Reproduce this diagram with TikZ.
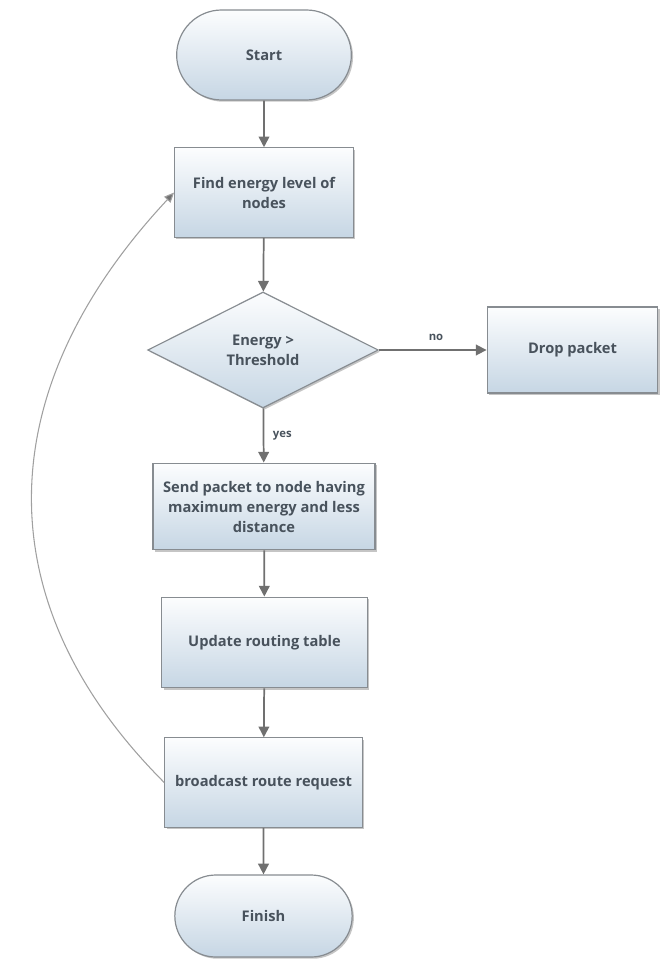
\documentclass[tikz,border=0pt]{standalone}
\usepackage{fontspec}
\setmainfont{Open Sans}
\usetikzlibrary{shapes.geometric,shapes.misc,arrows.meta,shadows}

\definecolor{boxline}{RGB}{135,140,145}
\definecolor{boxtop}{RGB}{252,253,254}
\definecolor{boxbot}{RGB}{198,214,228}
\definecolor{txtgray}{RGB}{72,82,92}
\definecolor{flowgray}{RGB}{112,112,112}
\definecolor{loopgray}{RGB}{160,160,160}

\tikzset{
  procbox/.style={rectangle, draw=boxline, line width=0.9pt, top color=boxtop, bottom color=boxbot,
    drop shadow={shadow xshift=1.3pt, shadow yshift=-1.3pt, fill=black!45},
    align=center, text=txtgray, inner sep=0pt, font=\fontsize{11}{15}\selectfont\bfseries},
  termbox/.style={procbox, rounded rectangle},
  decbox/.style={procbox, diamond, aspect=2},
  flowarrow/.style={draw=flowgray, line width=1.3pt, -{Triangle[width=8pt,length=8pt]}},
  looparrow/.style={draw=loopgray, line width=0.8pt, -{Triangle[width=6.5pt,length=7.5pt,fill=flowgray]}},
  edgelabel/.style={text=txtgray, font=\fontsize{8.5}{10}\selectfont\bfseries}
}

\begin{document}
\begin{tikzpicture}[x=0.75pt,y=0.75pt,yscale=-1]
\useasboundingbox (0,0) rectangle (671,966);

%Flowchart: Terminator
\node [termbox, minimum width=131pt, minimum height=67.5pt] (start) at (264,55) {Start};
%Flowchart: Process
\node [procbox, minimum width=134pt, minimum height=67pt] (find) at (264,192.5) {Find energy level of\\nodes};
%Flowchart: Decision
\node [decbox, minimum width=173pt, minimum height=87pt] (check) at (263,350) {Energy >\\Threshold};
%Flowchart: Process
\node [procbox, minimum width=128pt, minimum height=64.5pt] (drop) at (572.5,350) {Drop packet};
%Flowchart: Process
\node [procbox, minimum width=166.5pt, minimum height=65pt] (send) at (264,506.5) {Send packet to node having\\maximum energy and less\\distance};
%Flowchart: Process
\node [procbox, minimum width=154pt, minimum height=68pt] (update) at (264.5,642.5) {Update routing table};
%Flowchart: Process
\node [procbox, minimum width=148pt, minimum height=67pt] (bcast) at (263.5,782.5) {broadcast route request};
%Flowchart: Terminator
\node [termbox, minimum width=133pt, minimum height=61.5pt] (finish) at (263.5,916) {Finish};

%Straight Lines
\draw [flowarrow] (start) -- (find);
\draw [flowarrow] (find) -- (check);
\draw [flowarrow] (check) -- node [edgelabel, above=3pt, pos=0.53] {no} (drop);
\draw [flowarrow] (check) -- node [edgelabel, right=3pt, pos=0.5] {yes} (send);
\draw [flowarrow] (send) -- (update);
\draw [flowarrow] (update) -- (bcast);
\draw [flowarrow] (bcast) -- (finish);

%Curve Lines
\draw [looparrow] (bcast.west) .. controls +(-180,-180) and +(-185,198) .. (find.west);

\end{tikzpicture}
\end{document}
